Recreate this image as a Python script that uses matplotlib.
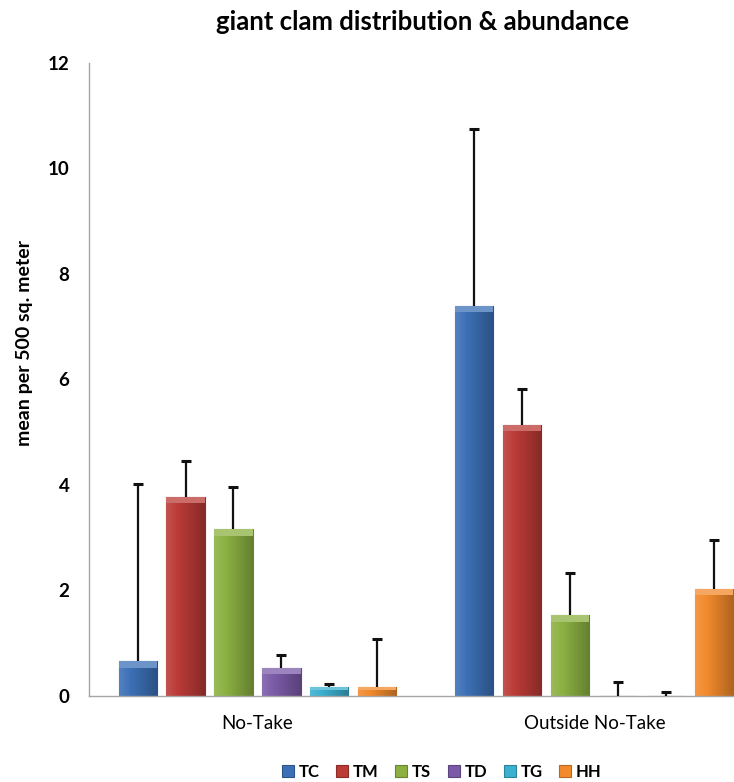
import numpy as np
import matplotlib

matplotlib.use("Agg")
import matplotlib.pyplot as plt
from matplotlib.colors import to_rgb

plt.rcParams["font.family"] = ["Lato", "DejaVu Sans"]

# data
sites = ["No-Take", "Outside No-Take"]
species = ["TC", "TM", "TS", "TD", "TG", "HH"]
means = {
    "TC": [0.65, 7.39],
    "TM": [3.77, 5.14],
    "TS": [3.15, 1.52],
    "TD": [0.52, 0.0],
    "TG": [0.16, 0.0],
    "HH": [0.16, 2.02],
}
errs = {
    "TC": [3.36, 3.36],
    "TM": [0.67, 0.68],
    "TS": [0.80, 0.81],
    "TD": [0.25, 0.26],
    "TG": [0.05, 0.07],
    "HH": [0.91, 0.93],
}
colors = ["#3c70b6", "#bb3b37", "#8cb142", "#7b5ba8", "#3bb0cf", "#f28a2c"]
yticks = [0, 2, 4, 6, 8, 10, 12]

fig = plt.figure(figsize=(7.34, 7.82), dpi=100)
# plot area runs past the right edge, as in the cropped original
ax = fig.add_axes([0.1213, 0.1106, 0.918, 0.8088])

x = np.arange(len(sites))
pitch = 0.1424
width = 0.113


def shade(c, f):
    r, g, b = to_rgb(c)
    if f >= 0:
        return (r + (1 - r) * f, g + (1 - g) * f, b + (1 - b) * f)
    return (r * (1 + f), g * (1 + f), b * (1 + f))


handles = []
for i, sp in enumerate(species):
    pos = x + (i - 2.5) * pitch
    bars = ax.bar(pos, means[sp], width, color=colors[i],
                  edgecolor=shade(colors[i], -0.25), linewidth=0.8, zorder=2)
    handles.append(bars[0])
    # horizontal gradient to mimic the bevelled Excel bars
    grad = np.linspace(0, 1, 64)
    ramp = np.array([shade(colors[i], 0.12 - 0.4 * g) for g in grad])[None, :, :]
    for b in bars:
        h = b.get_height()
        if h <= 0:
            continue
        bx = b.get_x()
        im = ax.imshow(ramp, extent=[bx, bx + width, 0, h], aspect="auto",
                       zorder=2.1, interpolation="bilinear")
        im.set_clip_path(b)
        top = min(0.12, h * 0.3)
        ax.bar(bx + width / 2, top, width, bottom=h - top,
               color=shade(colors[i], 0.25), linewidth=0, zorder=2.2)
    eb = ax.errorbar(pos, means[sp], yerr=[np.zeros(2), errs[sp]], fmt="none",
                     ecolor="#111111", elinewidth=1.6, capsize=3.3, capthick=2.2, zorder=3)
    eb[1][0].set_visible(False)  # upper error only

ax.set_xlim(-0.5, 1.5)
ax.set_ylim(0, 12)
ax.set_yticks(yticks)
ax.set_yticklabels([str(t) for t in yticks], fontsize=13.5, fontweight="bold")
ax.set_xticks(x)
ax.set_xticklabels(sites, fontsize=13.5)
ax.tick_params(axis="both", length=0)
ax.tick_params(axis="y", pad=14)
ax.tick_params(axis="x", pad=14)

for s in ["top", "right"]:
    ax.spines[s].set_visible(False)
for s in ["left", "bottom"]:
    ax.spines[s].set_color("#a6a6a6")
    ax.spines[s].set_linewidth(1.0)

fig.text(0.576, 0.972, "giant clam distribution & abundance", ha="center", va="center",
         fontsize=18.5, fontweight="bold")
fig.text(0.034, 0.561, "mean per 500 sq. meter", ha="center", va="center",
         rotation=90, fontsize=14, fontweight="bold")

fig.legend(handles, species, loc="center", bbox_to_anchor=(0.602, 0.013), ncol=6,
           frameon=False, handlelength=0.7, handleheight=0.7,
           handletextpad=0.3, columnspacing=1.0, prop={"weight": "bold", "size": 12})

fig.savefig("out.png", dpi=100)
